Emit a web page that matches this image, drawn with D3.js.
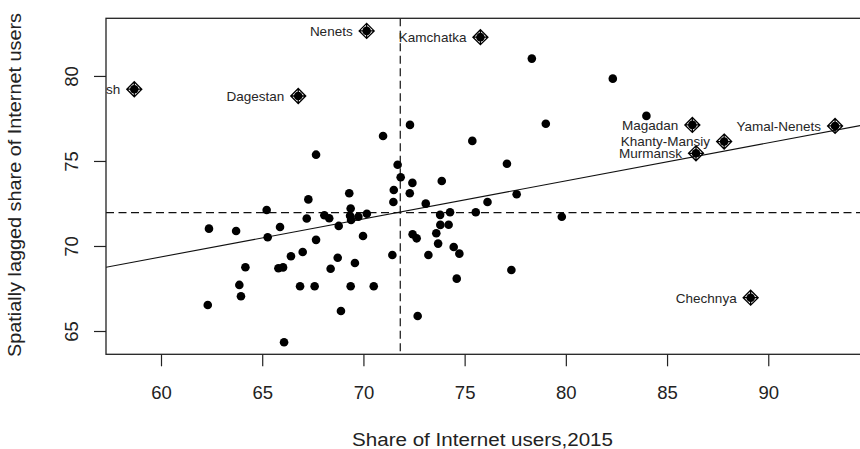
<!DOCTYPE html>
<html lang="en">

<head>
    <meta charset="UTF-8">
    <title>Moran scatterplot - Internet users</title>
    <script src="https://d3js.org/d3.v7.min.js"></script>
    <style>
        body {
            margin: 0;
            background: white;
        }

        svg {
            display: block;
            font-family: "Liberation Sans", Arial, sans-serif;
        }

        .tick text {
            font-size: 18.5px;
            fill: #222;
        }

        .tick line {
            stroke: #222;
            stroke-width: 1.2px;
        }

        .axis-title {
            font-size: 18px;
            fill: #222;
            text-anchor: middle;
        }

        .region-label {
            font-size: 13.5px;
            fill: #262626;
            text-anchor: end;
        }
    </style>
</head>

<body>
    <svg id="chart" width="860" height="449"></svg>

    <script>
        // regular regions (share 2015, spatially lagged share)
        const shareX = [78.32, 82.32, 72.30, 79.01, 83.98, 70.97, 75.38, 67.66, 77.09, 71.69,
            71.84, 72.42, 73.87, 71.50, 72.29, 69.30, 67.28, 77.57, 71.48, 73.08,
            76.13, 73.79, 74.28, 75.55, 79.80, 65.88, 67.20, 68.07, 68.31, 69.37,
            69.34, 69.39, 69.75, 70.17, 68.78, 67.66, 69.98, 66.42, 67.00, 68.73,
            66.03, 65.80, 68.38, 69.58, 71.43, 66.87, 67.59, 69.37, 70.51, 68.89,
            72.68, 66.08, 72.43, 72.63, 73.80, 74.21, 73.60, 73.69, 73.21, 74.46,
            74.74, 74.61, 77.31, 65.22, 62.37, 63.71, 65.27, 64.17, 63.87, 63.95,
            62.31];
        const laggedY = [81.02, 79.84, 77.12, 77.19, 77.65, 76.47, 76.18, 75.37, 74.84, 74.78,
            74.04, 73.71, 73.82, 73.29, 73.10, 73.10, 72.74, 73.04, 72.59, 72.49,
            72.59, 71.83, 71.98, 71.98, 71.72, 71.12, 71.62, 71.81, 71.63, 72.20,
            71.78, 71.53, 71.72, 71.90, 71.18, 70.36, 70.59, 69.40, 69.65, 69.31,
            68.74, 68.69, 68.66, 69.00, 69.47, 67.63, 67.63, 67.63, 67.63, 66.18,
            65.88, 64.34, 70.69, 70.45, 71.24, 71.25, 70.75, 70.14, 69.47, 69.94,
            69.55, 68.08, 68.59, 72.12, 71.02, 70.88, 70.51, 68.75, 67.71, 67.04,
            66.53];

        // influential regions, drawn with a diamond and named
        const inflNames = ["Ingush", "Dagestan", "Nenets", "Kamchatka", "Magadan",
            "Khanty-Mansiy", "Murmansk", "Yamal-Nenets", "Chechnya"];
        const inflX = [58.68, 66.78, 70.16, 75.78, 86.25, 87.82, 86.43, 93.30, 89.13];
        const inflY = [79.22, 78.82, 82.65, 82.28, 77.12, 76.14, 75.45, 77.06, 66.96];

        const meanX = 71.82, meanY = 71.96;
        const fitIntercept = 55.94, fitSlope = 0.2236;

        const xTicks = [60, 65, 70, 75, 80, 85, 90];
        const yTicks = [65, 70, 75, 80];
        const xTitle = "Share of Internet users,2015";
        const yTitle = "Spatially lagged share of Internet users";

        const svg = d3.select("#chart");
        const plotL = 106, plotR = 863, plotT = 18.3, plotB = 354.3;

        const x = d3.scaleLinear().domain([57.283, 94.68]).range([plotL, plotR]);
        const y = d3.scaleLinear().domain([63.63, 83.39]).range([plotB, plotT]);

        svg.append("defs").append("clipPath").attr("id", "plot-clip")
            .append("rect")
            .attr("x", plotL).attr("y", plotT)
            .attr("width", plotR - plotL).attr("height", plotB - plotT);

        const plot = svg.append("g").attr("clip-path", "url(#plot-clip)");

        // mean lines
        plot.append("line")
            .attr("x1", x(meanX)).attr("x2", x(meanX))
            .attr("y1", plotT).attr("y2", plotB)
            .attr("stroke", "#111").attr("stroke-width", 1.2)
            .attr("stroke-dasharray", "8,4.5");
        plot.append("line")
            .attr("x1", plotL).attr("x2", plotR)
            .attr("y1", y(meanY)).attr("y2", y(meanY))
            .attr("stroke", "#111").attr("stroke-width", 1.2)
            .attr("stroke-dasharray", "8,4.5");

        // fitted line
        const xd = x.domain();
        plot.append("line")
            .attr("x1", x(xd[0])).attr("y1", y(fitIntercept + fitSlope * xd[0]))
            .attr("x2", x(xd[1])).attr("y2", y(fitIntercept + fitSlope * xd[1]))
            .attr("stroke", "#111").attr("stroke-width", 1.1);

        // regular points
        plot.selectAll(".pt")
            .data(shareX.map((v, i) => [v, laggedY[i]]))
            .enter().append("circle")
            .attr("class", "pt")
            .attr("cx", d => x(d[0]))
            .attr("cy", d => y(d[1]))
            .attr("r", 4.3)
            .attr("fill", "black");

        // influential points: filled dot + diamond with a cross
        const infl = inflNames.map((n, i) => ({ name: n, x: inflX[i], y: inflY[i] }));
        const s = 7.5;
        const mark = plot.selectAll(".infl")
            .data(infl)
            .enter().append("g")
            .attr("class", "infl")
            .attr("transform", d => `translate(${x(d.x)},${y(d.y)})`);
        mark.append("circle").attr("r", 4.3).attr("fill", "black");
        mark.append("path")
            .attr("d", `M0,${-s}L${s},0L0,${s}L${-s},0Z M0,${-s}V${s} M${-s},0H${s}`)
            .attr("fill", "none")
            .attr("stroke", "black")
            .attr("stroke-width", 1.3);

        plot.selectAll(".region-label")
            .data(infl)
            .enter().append("text")
            .attr("class", "region-label")
            .attr("x", d => x(d.x) - 14)
            .attr("y", d => y(d.y))
            .attr("dy", "0.36em")
            .text(d => d.name);

        // box
        svg.append("rect")
            .attr("x", plotL).attr("y", plotT)
            .attr("width", plotR - plotL).attr("height", plotB - plotT)
            .attr("fill", "none").attr("stroke", "#222").attr("stroke-width", 1.3);

        // axes
        const xAxis = svg.append("g")
            .attr("transform", `translate(0,${plotB})`)
            .call(d3.axisBottom(x).tickValues(xTicks).tickSize(12).tickSizeOuter(0).tickPadding(20));
        xAxis.select(".domain").remove();
        xAxis.attr("font-family", null).attr("font-size", null);

        const yAxis = svg.append("g")
            .attr("transform", `translate(${plotL},0)`)
            .call(d3.axisLeft(y).tickValues(yTicks).tickSize(12).tickSizeOuter(0));
        yAxis.select(".domain").remove();
        yAxis.attr("font-family", null).attr("font-size", null);
        yAxis.selectAll("text")
            .attr("x", null).attr("dy", null)
            .attr("text-anchor", "middle")
            .attr("transform", "translate(-28,0) rotate(-90)");

        svg.append("text")
            .attr("class", "axis-title")
            .attr("x", 482.5)
            .attr("y", 446)
            .attr("textLength", 261)
            .attr("lengthAdjust", "spacingAndGlyphs")
            .text(xTitle);

        svg.append("text")
            .attr("class", "axis-title")
            .attr("transform", `translate(21,185) rotate(-90)`)
            .attr("textLength", 344)
            .attr("lengthAdjust", "spacingAndGlyphs")
            .text(yTitle);
    </script>
</body>

</html>
